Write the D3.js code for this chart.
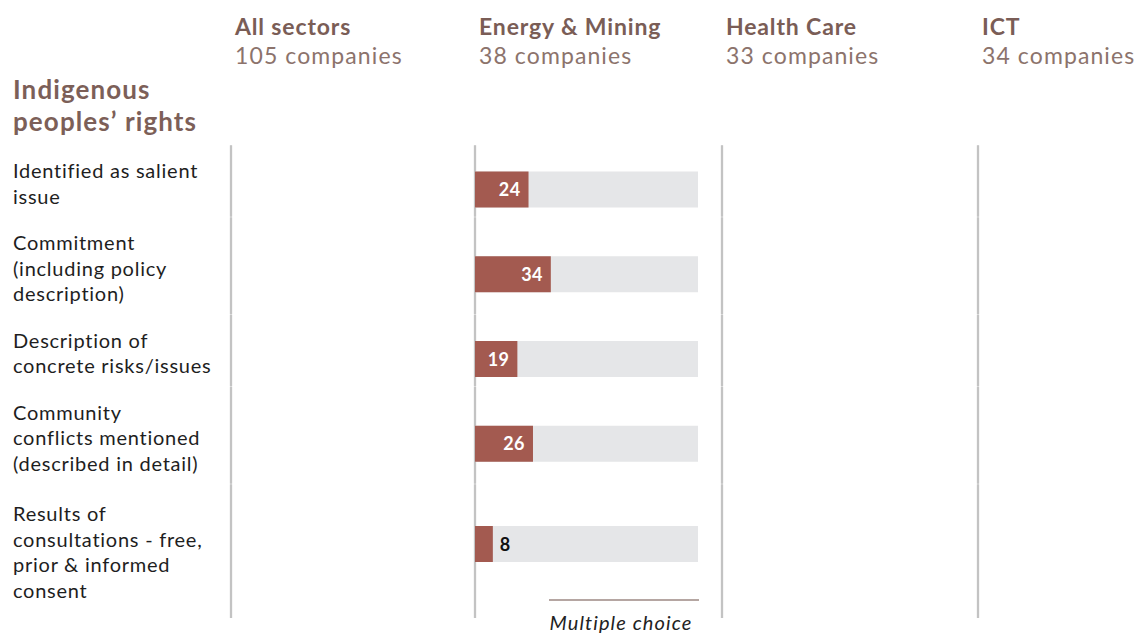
<!DOCTYPE html>
<html>
<head>
<meta charset="utf-8">
<script src="https://cdn.jsdelivr.net/npm/d3@7"></script>
<style>
  html, body { margin: 0; padding: 0; background: #fff; }
  svg { display: block; font-family: Lato, "Noto Sans", sans-serif; }
</style>
</head>
<body>
<svg id="chart" width="1137" height="633"></svg>
<script>
// Sector columns and the number of companies assessed in each
const sectors = ["All sectors", "Energy & Mining", "Health Care", "ICT"];
const companyCounts = [105, 38, 33, 34];

// Indicator rows (label lines)
const indicators = [
  ["Identified as salient", "issue"],
  ["Commitment", "(including policy", "description)"],
  ["Description of", "concrete risks/issues"],
  ["Community", "conflicts mentioned", "(described in detail)"],
  ["Results of", "consultations - free,", "prior & informed", "consent"]
];

// Share of companies (%) per indicator; only Energy & Mining is reported
const energyMiningValues = [24, 34, 19, 26, 8];
const sectorValues = {
  "All sectors": null,
  "Energy & Mining": energyMiningValues,
  "Health Care": null,
  "ICT": null
};

const sectionTitle = ["Indigenous", "peoples\u2019 rights"];
const footnote = "Multiple choice";

// ---- layout ----
const svg = d3.select("#chart");

const colX = d3.scaleOrdinal(sectors, [231, 475, 722, 978]);
const barScale = d3.scaleLinear().domain([0, 100]).range([0, 223]);

const lineH = 25.5, rowPad = 21, gridTop = 145, gridBottom = 618;
let acc = gridTop;
const rows = indicators.map((lines, i) => {
  const h = lines.length * lineH + rowPad;
  const r = { i, lines, top: acc, h };
  acc += h;
  return r;
});

const barH = 36;

// ---- column headers ----
const head = svg.append("g");
sectors.forEach((s, i) => {
  head.append("text")
    .attr("x", colX(s) + 4).attr("y", 35)
    .attr("font-size", 23).attr("font-weight", 700)
    .attr("letter-spacing", 0.85)
    .attr("fill", "#7a5d56")
    .text(s);
  head.append("text")
    .attr("x", colX(s) + 4).attr("y", 64)
    .attr("font-size", 23).attr("font-weight", 400)
    .attr("letter-spacing", 1.1)
    .attr("fill", "#8c736c")
    .text(companyCounts[i] + " companies");
});

// ---- section title ----
svg.append("text")
  .attr("x", 13).attr("y", 99)
  .attr("font-size", 26).attr("font-weight", 700)
  .attr("letter-spacing", 1.1)
  .attr("fill", "#7c5f58")
  .selectAll("tspan").data(sectionTitle).join("tspan")
  .attr("x", 13).attr("dy", (d, i) => i === 0 ? 0 : 32)
  .text(d => d);

// ---- column rules (one segment per row) ----
const rules = svg.append("g");
sectors.forEach(s => {
  rules.append("line")
    .attr("x1", colX(s)).attr("x2", colX(s))
    .attr("y1", gridTop).attr("y2", gridBottom)
    .attr("stroke", "#dcdcdc").attr("stroke-width", 2.2);
  rows.forEach((r, k) => {
    const y2 = k === rows.length - 1 ? gridBottom : r.top + r.h - 0.5;
    rules.append("line")
      .attr("x1", colX(s)).attr("x2", colX(s))
      .attr("y1", r.top + 0.5).attr("y2", y2)
      .attr("stroke", "#c3c3c3").attr("stroke-width", 2.2);
  });
});

// ---- row labels ----
const labels = svg.append("g");
rows.forEach((r, k) => {
  const first = r.top + (r.lines.length > 3 ? 37 : 33);
  labels.append("text")
    .attr("font-size", 20).attr("fill", "#1e1e1e")
    .attr("letter-spacing", 0.75)
    .selectAll("tspan").data(r.lines).join("tspan")
    .attr("x", 13)
    .attr("y", (d, j) => first + j * lineH)
    .text(d => d);
});

// ---- bars ----
const bars = svg.append("g");
sectors.forEach(s => {
  const vals = sectorValues[s];
  if (!vals) return;
  const x0 = colX(s);
  rows.forEach((r, k) => {
    const yc = r.top + Math.min(19 + (r.lines.length * lineH) / 2, 60);
    const v = vals[k];
    bars.append("rect")
      .attr("x", x0).attr("y", yc - barH / 2)
      .attr("width", barScale(100)).attr("height", barH)
      .attr("fill", "#e5e6e8");
    bars.append("rect")
      .attr("x", x0).attr("y", yc - barH / 2)
      .attr("width", barScale(v)).attr("height", barH)
      .attr("fill", "#a35a50");
    const inside = barScale(v) > 32;
    bars.append("text")
      .attr("x", inside ? x0 + barScale(v) - 8 : x0 + barScale(v) + 7)
      .attr("y", yc + 6.5)
      .attr("text-anchor", inside ? "end" : "start")
      .attr("font-size", 18).attr("font-weight", 700)
      .attr("letter-spacing", 0.4)
      .attr("fill", inside ? "#ffffff" : "#111111")
      .text(v);
  });

  // footnote
  svg.append("line")
    .attr("x1", x0 + 74).attr("x2", x0 + barScale(100) + 1)
    .attr("y1", 600).attr("y2", 600)
    .attr("stroke", "#9c8983").attr("stroke-width", 1.6);
  svg.append("text")
    .attr("x", x0 + 146).attr("y", 630)
    .attr("text-anchor", "middle")
    .attr("font-size", 20).attr("font-style", "italic")
    .attr("letter-spacing", 1.1)
    .attr("fill", "#222")
    .text(footnote);
});
</script>
</body>
</html>
